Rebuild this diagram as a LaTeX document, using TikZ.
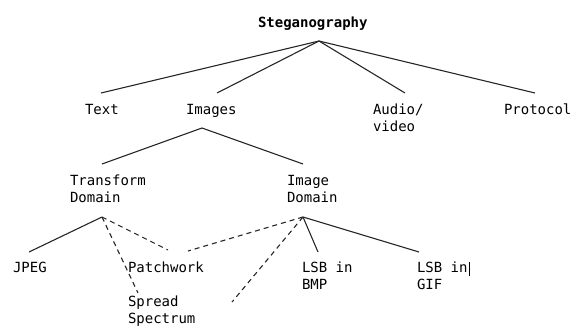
\documentclass[tikz,border=0pt]{standalone}
\usepackage{fontspec}
\setmonofont{DejaVu Sans Mono}
\begin{document}
\begin{tikzpicture}[x=1pt,y=-1pt,
  lbl/.style={anchor=base west,inner sep=0pt,outer sep=0pt,align=left,
    font=\fontsize{14}{17}\selectfont\ttfamily},
  ttl/.style={lbl,font=\fontsize{14}{17}\selectfont\ttfamily\bfseries},
  conn/.style={line width=1.1pt,black!85},
  dconn/.style={conn,dash pattern=on 5pt off 4pt}]
\useasboundingbox (0,0) rectangle (571,327);
% labels (base west = baseline of the last line)
\node[ttl] (steg) at (258,27) {Steganography};
\node[lbl] (text) at (85,114) {Text};
\node[lbl] (images) at (186,114) {Images};
\node[lbl] (audio) at (373,131) {Audio/\\video};
\node[lbl] (proto) at (504,114) {Protocol};
\node[lbl] (trans) at (70,202) {Transform\\Domain};
\node[lbl] (imgdom) at (287,202) {Image\\Domain};
\node[lbl] (jpeg) at (13,272) {JPEG};
\node[lbl] (patch) at (128,272) {Patchwork};
\node[lbl] (spread) at (128,323) {Spread\\Spectrum};
\node[lbl] (lsbbmp) at (302,289) {LSB in\\BMP};
\node[lbl] (lsbgif) at (417,289) {LSB in\\GIF};
% connector end points
\coordinate (steg-a) at (319,41);
\coordinate (text-t) at (101,93);
\coordinate (images-t) at (217,93);
\coordinate (audio-t) at (405,93);
\coordinate (proto-t) at (535,93);
\coordinate (images-a) at (202,128);
\coordinate (trans-t) at (102,164);
\coordinate (imgdom-t) at (303,164);
\coordinate (trans-a) at (102,217);
\coordinate (imgdom-a) at (303,217);
\coordinate (jpeg-t) at (29,252);
\coordinate (patch-tl) at (168,250);
\coordinate (patch-tr) at (188,251);
\coordinate (spread-t) at (138,293);
\coordinate (free-end) at (232,302);
\coordinate (lsbbmp-t) at (318,252);
\coordinate (lsbgif-t) at (419,252);
% connectors
\draw[conn] (steg-a) -- (text-t);
\draw[conn] (steg-a) -- (images-t);
\draw[conn] (steg-a) -- (audio-t);
\draw[conn] (steg-a) -- (proto-t);
\draw[conn] (images-a) -- (trans-t);
\draw[conn] (images-a) -- (imgdom-t);
\draw[conn] (trans-a) -- (jpeg-t);
\draw[dconn] (trans-a) -- (patch-tl);
\draw[dconn] (trans-a) -- (spread-t);
\draw[dconn] (imgdom-a) -- (patch-tr);
\draw[dconn] (imgdom-a) -- (free-end);
\draw[conn] (imgdom-a) -- (lsbbmp-t);
\draw[conn] (imgdom-a) -- (lsbgif-t);
% text cursor
\coordinate (cur-t) at (469,262);
\coordinate (cur-b) at (469,276);
\draw[line width=0.8pt] (cur-t) -- (cur-b);
\end{tikzpicture}
\end{document}
